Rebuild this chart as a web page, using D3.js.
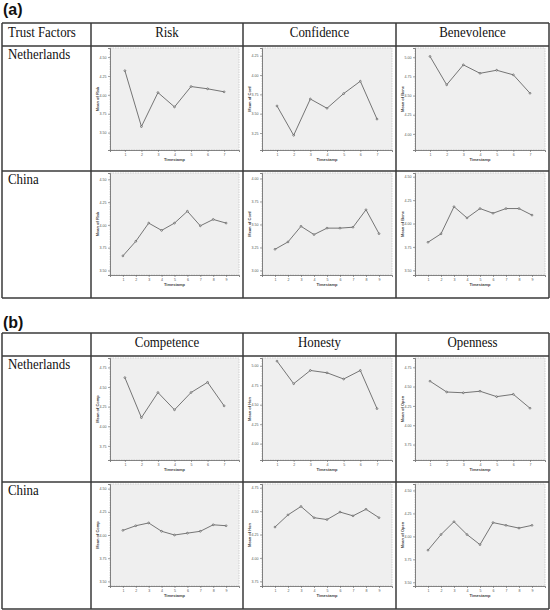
<!DOCTYPE html>
<html>
<head>
<meta charset="utf-8">
<script src="https://cdn.jsdelivr.net/npm/d3@7"></script>
<style>
  html, body { margin: 0; padding: 0; background: #fff; }
  svg { display: block; }
</style>
</head>
<body>
<svg id="chart" width="550" height="610"></svg>
<script>
// ---------------- DATA ----------------
const factorsA = ["Risk", "Confidence", "Benevolence"];
const factorsB = ["Competence", "Honesty", "Openness"];
const countries = ["Netherlands", "China"];
const cornerLabel = "Trust Factors";
const xTitle = "Timestamp";
const yTitlesA = ["Mean of Risk", "Mean of Conf", "Mean of Bene"];
const yTitlesB = ["Mean of Comp", "Mean of Hon", "Mean of Open"];

const timestampsNL = [1, 2, 3, 4, 5, 6, 7];
const timestampsCN = [1, 2, 3, 4, 5, 6, 7, 8, 9];

const riskNL = [4.32, 3.58, 4.03, 3.84, 4.11, 4.08, 4.04];
const riskCN = [3.66, 3.82, 4.02, 3.94, 4.02, 4.15, 3.99, 4.06, 4.02];
const confNL = [3.60, 3.22, 3.69, 3.57, 3.76, 3.92, 3.43];
const confCN = [3.23, 3.31, 3.48, 3.39, 3.46, 3.46, 3.47, 3.66, 3.40];
const beneNL = [5.01, 4.64, 4.90, 4.79, 4.83, 4.77, 4.53];
const beneCN = [3.80, 3.89, 4.18, 4.06, 4.16, 4.11, 4.16, 4.16, 4.09];
const compNL = [4.62, 4.11, 4.43, 4.21, 4.43, 4.56, 4.26];
const compCN = [4.05, 4.10, 4.13, 4.04, 4.00, 4.02, 4.04, 4.11, 4.10];
const honNL  = [5.06, 4.77, 4.94, 4.91, 4.83, 4.94, 4.45];
const honCN  = [4.33, 4.46, 4.55, 4.43, 4.41, 4.49, 4.45, 4.52, 4.43];
const openNL = [4.57, 4.43, 4.42, 4.44, 4.37, 4.40, 4.22];
const openCN = [3.85, 4.02, 4.16, 4.02, 3.91, 4.15, 4.12, 4.09, 4.12];

const riskNLTicks = [3.50, 3.75, 4.00, 4.25, 4.50], riskNLDomain = [3.27, 4.62];
const riskCNTicks = [3.50, 3.75, 4.00, 4.25, 4.50], riskCNDomain = [3.45, 4.57];
const confNLTicks = [3.25, 3.50, 3.75, 4.00, 4.25], confNLDomain = [3.03, 4.35];
const confCNTicks = [3.00, 3.25, 3.50, 3.75, 4.00], confCNDomain = [2.95, 4.06];
const beneNLTicks = [4.00, 4.25, 4.50, 4.75, 5.00], beneNLDomain = [3.79, 5.12];
const beneCNTicks = [3.50, 3.75, 4.00, 4.25, 4.50], beneCNDomain = [3.45, 4.54];
const compNLTicks = [3.75, 4.00, 4.25, 4.50, 4.75], compNLDomain = [3.57, 4.87];
const compCNTicks = [3.50, 3.75, 4.00, 4.25, 4.50], compCNDomain = [3.45, 4.55];
const honNLTicks  = [4.00, 4.25, 4.50, 4.75, 5.00], honNLDomain  = [3.79, 5.10];
const honCNTicks  = [3.75, 4.00, 4.25, 4.50, 4.75], honCNDomain  = [3.70, 4.79];
const openNLTicks = [3.75, 4.00, 4.25, 4.50, 4.75], openNLDomain = [3.55, 4.87];
const openCNTicks = [3.50, 3.75, 4.00, 4.25, 4.50], openCNDomain = [3.46, 4.57];

// ---------------- LAYOUT ----------------
const svg = d3.select("#chart");
const colX = [2, 91, 243, 396, 549];
const panels = [
  { label: "(a)", labelY: 15, rows: [23, 46, 171, 298], corner: cornerLabel, factors: factorsA, titles: yTitlesA,
    series: [[riskNL, riskCN], [confNL, confCN], [beneNL, beneCN]],
    ticks: [[riskNLTicks, riskCNTicks], [confNLTicks, confCNTicks], [beneNLTicks, beneCNTicks]],
    domains: [[riskNLDomain, riskCNDomain], [confNLDomain, confCNDomain], [beneNLDomain, beneCNDomain]] },
  { label: "(b)", labelY: 328, rows: [333, 356, 482, 609], corner: "", factors: factorsB, titles: yTitlesB,
    series: [[compNL, compCN], [honNL, honCN], [openNL, openCN]],
    ticks: [[compNLTicks, compCNTicks], [honNLTicks, honCNTicks], [openNLTicks, openCNTicks]],
    domains: [[compNLDomain, compCNDomain], [honNLDomain, honCNDomain], [openNLDomain, openCNDomain]] }
];
const timestamps = [timestampsNL, timestampsCN];

function serifText(g, x, y, txt, anchor) {
  g.append("text")
    .attr("transform", `translate(${x},${y}) scale(0.86,1)`)
    .attr("text-anchor", anchor)
    .attr("font-family", "'Liberation Serif','Times New Roman',serif")
    .attr("font-size", 15)
    .attr("fill", "#111")
    .text(txt);
}

function miniChart(g, x0, y0, x1, values, ts, ticks, domain, yTitle) {
  const left = x0 + 19, right = x1 - 4, top = y0 + 2, bottom = y0 + 104;
  const pad = ts.length > 7 ? 1.0 : 0.9;
  const x = d3.scalePoint().domain(ts).range([left, right]).padding(pad);
  const y = d3.scaleLinear().domain(domain).range([bottom, top]);
  const c = g.append("g");
  c.append("rect").attr("x", left).attr("y", top).attr("width", right - left).attr("height", bottom - top)
    .attr("fill", "#efefef").attr("stroke", "#c8c8c8").attr("stroke-width", 0.8).attr("stroke-dasharray", "1.5,1");
  const yAxis = c.append("g").attr("transform", `translate(${left},0)`)
    .call(d3.axisLeft(y).tickValues(ticks).tickSize(2).tickPadding(1.5).tickFormat(d3.format(".2f")));
  const xAxis = c.append("g").attr("transform", `translate(0,${bottom})`)
    .call(d3.axisBottom(x).tickSize(2).tickPadding(1.5));
  [yAxis, xAxis].forEach(a => {
    a.select(".domain").attr("stroke", "#666").attr("stroke-width", 0.8);
    a.selectAll(".tick line").attr("stroke", "#666").attr("stroke-width", 0.6);
    a.selectAll("text").attr("font-size", 3.6).attr("font-family", "'Liberation Sans',Arial,sans-serif").attr("fill", "#555");
  });
  c.append("text").attr("transform", `translate(${left - 11},${(top + bottom) / 2}) rotate(-90)`)
    .attr("text-anchor", "middle").attr("font-size", 4).attr("font-weight", "bold")
    .attr("font-family", "'Liberation Sans',Arial,sans-serif").attr("fill", "#444").text(yTitle);
  c.append("text").attr("x", (left + right) / 2).attr("y", bottom + 11)
    .attr("text-anchor", "middle").attr("font-size", 4).attr("font-weight", "bold")
    .attr("font-family", "'Liberation Sans',Arial,sans-serif").attr("fill", "#444").text(xTitle);
  const pts = ts.map((t, i) => [t, values[i]]);
  c.append("path").datum(pts)
    .attr("d", d3.line().x(d => x(d[0])).y(d => y(d[1])))
    .attr("fill", "none").attr("stroke", "#5e5e5e").attr("stroke-width", 0.85);
  c.selectAll("circle.pt").data(pts).join("circle").attr("class", "pt")
    .attr("cx", d => x(d[0])).attr("cy", d => y(d[1])).attr("r", 0.9)
    .attr("fill", "#efefef").attr("stroke", "#444").attr("stroke-width", 0.6);
}

panels.forEach(p => {
  const g = svg.append("g");
  g.append("text").attr("x", 3).attr("y", p.labelY)
    .attr("font-family", "'Liberation Sans',Arial,sans-serif").attr("font-weight", "bold")
    .attr("font-size", 16).attr("fill", "#111").text(p.label);
  const r = p.rows;
  if (p.corner) serifText(g, 8, r[0] + 14, p.corner, "start");
  p.factors.forEach((f, i) => serifText(g, (colX[i + 1] + colX[i + 2]) / 2, r[0] + 14, f, "middle"));
  countries.forEach((cn, j) => serifText(g, 8, r[j + 1] + 13, cn, "start"));
  p.factors.forEach((f, i) => {
    countries.forEach((cn, j) => {
      miniChart(g, colX[i + 1], r[j + 1], colX[i + 2], p.series[i][j], timestamps[j], p.ticks[i][j], p.domains[i][j], p.titles[i]);
    });
  });
  const lines = g.append("g").attr("stroke", "#3a3a3a").attr("stroke-width", 1.5);
  r.forEach(yy => lines.append("line").attr("x1", colX[0]).attr("x2", colX[4]).attr("y1", yy).attr("y2", yy));
  colX.forEach(xx => lines.append("line").attr("x1", xx).attr("x2", xx).attr("y1", r[0]).attr("y2", r[3]));
});
</script>
</body>
</html>
